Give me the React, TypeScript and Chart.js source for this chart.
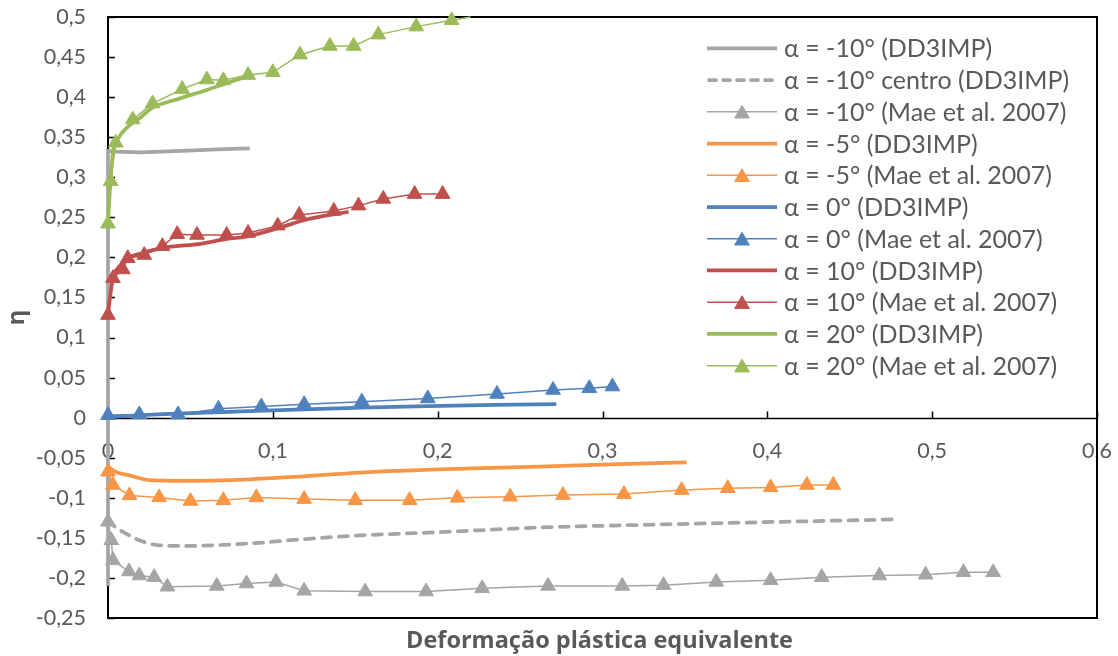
import React, { useEffect, useRef } from "react";
import { Chart, registerables } from "chart.js";

Chart.register(...registerables);

const FONT = "Lato, 'Open Sans', sans-serif";
const TITLE_FONT = "'Open Sans', sans-serif";
const TEXT = "#595959";

const GRAY = "#A5A5A5";
const ORANGE = "#F79646";
const BLUE = "#4F81BD";
const RED = "#C0504D";
const GREEN = "#9BBB59";

// Tick values
const xTickValues = [0, 0.1, 0.2, 0.3, 0.4, 0.5, 0.6];
const yTickValues = [-0.25, -0.2, -0.15, -0.1, -0.05, 0, 0.05, 0.1, 0.15, 0.2, 0.25, 0.3, 0.35, 0.4, 0.45, 0.5];

// Series: [deformação plástica equivalente, η]
const m10Sim: [number, number][] = [
  [0, -0.21], [0, 0.333], [0.005, 0.332], [0.02, 0.331], [0.045, 0.333], [0.07, 0.335], [0.086, 0.336],
];
const m10Centro: [number, number][] = [
  [0, -0.128], [0.003, -0.134], [0.007, -0.14], [0.013, -0.147], [0.019, -0.153], [0.03, -0.159], [0.045, -0.16],
  [0.086, -0.157], [0.116, -0.152], [0.153, -0.147], [0.2, -0.143], [0.262, -0.137], [0.32, -0.134],
  [0.384, -0.131], [0.43, -0.129], [0.476, -0.127],
];
const m10Mae: [number, number][] = [
  [0, -0.13], [0.002, -0.153], [0.003, -0.178], [0.0127, -0.192], [0.019, -0.197], [0.028, -0.199],
  [0.036, -0.211], [0.066, -0.21], [0.084, -0.207], [0.102, -0.205], [0.119, -0.216], [0.156, -0.217],
  [0.193, -0.217], [0.227, -0.213], [0.267, -0.21], [0.312, -0.21], [0.337, -0.209], [0.369, -0.205],
  [0.402, -0.203], [0.433, -0.199], [0.468, -0.197], [0.496, -0.196], [0.519, -0.193], [0.537, -0.193],
];
const m5Sim: [number, number][] = [
  [0, -0.061], [0.004, -0.067], [0.013, -0.072], [0.025, -0.078], [0.044, -0.079], [0.086, -0.077],
  [0.116, -0.0735], [0.153, -0.0685], [0.221, -0.0633], [0.262, -0.061], [0.31, -0.058], [0.351, -0.0558],
];
const m5Mae: [number, number][] = [
  [0, -0.0675], [0.003, -0.084], [0.013, -0.097], [0.031, -0.0995], [0.05, -0.104], [0.07, -0.103],
  [0.09, -0.0995], [0.119, -0.1016], [0.15, -0.103], [0.183, -0.103], [0.212, -0.1], [0.244, -0.0987],
  [0.276, -0.0966], [0.313, -0.0954], [0.348, -0.0904], [0.376, -0.088], [0.402, -0.087], [0.424, -0.084],
  [0.44, -0.084],
];
const zeroSim: [number, number][] = [
  [0, 0.001], [0.03, 0.004], [0.07, 0.007], [0.119, 0.0105], [0.154, 0.0125], [0.194, 0.0145],
  [0.235, 0.016], [0.272, 0.017],
];
const zeroMae: [number, number][] = [
  [0, 0.003], [0.019, 0.004], [0.0425, 0.004], [0.067, 0.011], [0.093, 0.0138], [0.119, 0.0167],
  [0.154, 0.02], [0.194, 0.024], [0.236, 0.0296], [0.27, 0.0346], [0.292, 0.0367], [0.306, 0.0388],
];
const p10Sim: [number, number][] = [
  [0, 0.128], [0.001, 0.147], [0.003, 0.174], [0.007, 0.189], [0.012, 0.199], [0.021, 0.2055],
  [0.035, 0.2125], [0.056, 0.217], [0.072, 0.223], [0.084, 0.226], [0.104, 0.237], [0.12, 0.247], [0.146, 0.257],
];
const p10Mae: [number, number][] = [
  [0, 0.128], [0.003, 0.174], [0.009, 0.185], [0.012, 0.199], [0.022, 0.203], [0.033, 0.214],
  [0.042, 0.229], [0.054, 0.228], [0.072, 0.228], [0.085, 0.2305], [0.103, 0.2396], [0.116, 0.253],
  [0.137, 0.258], [0.152, 0.2646], [0.167, 0.273], [0.186, 0.279], [0.203, 0.279],
];
const p20Sim: [number, number][] = [
  [0, 0.242], [0.0015, 0.295], [0.003, 0.33], [0.006, 0.348], [0.012, 0.363], [0.02, 0.375],
  [0.027, 0.387], [0.04, 0.396], [0.06, 0.409], [0.086, 0.427],
];
const p20Mae: [number, number][] = [
  [0, 0.242], [0.0016, 0.295], [0.0047, 0.343], [0.015, 0.372], [0.027, 0.392], [0.045, 0.41],
  [0.06, 0.422], [0.07, 0.421], [0.085, 0.4275], [0.1, 0.431], [0.1165, 0.453], [0.1346, 0.4638],
  [0.149, 0.4638], [0.164, 0.478], [0.187, 0.488], [0.2085, 0.496], [0.22, 0.5],
];

const fmt = (v: number) => String(Math.round(v * 100) / 100).replace(".", ",");

const toXY = (pts: [number, number][]) => pts.map(([x, y]) => ({ x, y }));

type Kind = "sim" | "dash" | "mae";

const seriesDefs: { label: string; pts: [number, number][]; color: string; kind: Kind; smooth?: boolean }[] = [
  { label: "α = -10° (DD3IMP)", pts: m10Sim, color: GRAY, kind: "sim", smooth: false },
  { label: "α = -10° centro (DD3IMP)", pts: m10Centro, color: GRAY, kind: "dash" },
  { label: "α = -10° (Mae et al. 2007)", pts: m10Mae, color: GRAY, kind: "mae" },
  { label: "α = -5° (DD3IMP)", pts: m5Sim, color: ORANGE, kind: "sim" },
  { label: "α = -5° (Mae et al. 2007)", pts: m5Mae, color: ORANGE, kind: "mae" },
  { label: "α = 0° (DD3IMP)", pts: zeroSim, color: BLUE, kind: "sim" },
  { label: "α = 0° (Mae et al. 2007)", pts: zeroMae, color: BLUE, kind: "mae" },
  { label: "α = 10° (DD3IMP)", pts: p10Sim, color: RED, kind: "sim" },
  { label: "α = 10° (Mae et al. 2007)", pts: p10Mae, color: RED, kind: "mae" },
  { label: "α = 20° (DD3IMP)", pts: p20Sim, color: GREEN, kind: "sim" },
  { label: "α = 20° (Mae et al. 2007)", pts: p20Mae, color: GREEN, kind: "mae" },
];

const THICK = 3.75;
const THIN = 1.5;
const MARK_R = 8.5;
const DASH = [9, 8];

function drawTriangle(ctx: CanvasRenderingContext2D, cx: number, cy: number, r: number, color: string) {
  ctx.beginPath();
  ctx.moveTo(cx, cy - r);
  ctx.lineTo(cx + r * 0.866, cy + r * 0.5);
  ctx.lineTo(cx - r * 0.866, cy + r * 0.5);
  ctx.closePath();
  ctx.fillStyle = color;
  ctx.fill();
  ctx.lineWidth = 1;
  ctx.strokeStyle = color;
  ctx.stroke();
}

// Plot frame, axis at η = 0, inward tick marks and axis titles
const framePlugin = {
  id: "frame",
  beforeDatasetsDraw(chart: any) {
    const { ctx, chartArea: a, scales } = chart;
    const xs = scales.x;
    const ys = scales.y;
    ctx.save();
    ctx.strokeStyle = "#000";
    ctx.lineWidth = 2;
    ctx.strokeRect(a.left, a.top, a.right - a.left, a.bottom - a.top);
    const y0 = Math.round(ys.getPixelForValue(0)) + 0.5;
    ctx.lineWidth = 1.5;
    ctx.beginPath();
    ctx.moveTo(a.left, y0);
    ctx.lineTo(a.right, y0);
    for (const v of yTickValues) {
      const py = Math.round(ys.getPixelForValue(v)) + 0.5;
      ctx.moveTo(a.left, py);
      ctx.lineTo(a.left + 7, py);
    }
    for (const v of xTickValues) {
      const px = Math.round(xs.getPixelForValue(v)) + 0.5;
      ctx.moveTo(px, y0);
      ctx.lineTo(px, y0 - 7);
    }
    ctx.stroke();

    ctx.fillStyle = TEXT;
    ctx.font = `bold 23.5px ${TITLE_FONT}`;
    ctx.textAlign = "center";
    ctx.textBaseline = "alphabetic";
    ctx.fillText("Deformação plástica equivalente", (a.left + a.right) / 2 - 3, 648);
    ctx.save();
    ctx.translate(24, (a.top + a.bottom) / 2);
    ctx.rotate(-Math.PI / 2);
    ctx.fillText("η", 0, 0);
    ctx.restore();
    ctx.restore();
  },
};

// Legend block inside the plot area
const legendPlugin = {
  id: "sideLegend",
  afterDatasetsDraw(chart: any) {
    const { ctx } = chart;
    const x0 = 707;
    const x1 = 777;
    const tx = 784;
    const top = 48.3;
    const dy = 31.74;
    ctx.save();
    chart.data.datasets.forEach((ds: any, i: number) => {
      const yy = top + i * dy;
      ctx.strokeStyle = ds.borderColor;
      ctx.lineWidth = ds.borderWidth;
      ctx.lineCap = ds.borderDash ? "round" : "butt";
      ctx.setLineDash(ds.borderDash ? [7, 7] : []);
      ctx.beginPath();
      ctx.moveTo(x0 + (ds.borderDash ? 2 : 0), yy);
      ctx.lineTo(x1, yy);
      ctx.stroke();
      ctx.setLineDash([]);
      if (ds.kind === "mae") {
        drawTriangle(ctx, (x0 + x1) / 2, yy + 2, MARK_R, ds.borderColor);
      }
      ctx.fillStyle = TEXT;
      ctx.font = `25px ${FONT}`;
      ctx.textAlign = "left";
      ctx.textBaseline = "middle";
      ctx.fillText(ds.label, tx, yy + 1);
    });
    ctx.restore();
  },
};

export default function App() {
  const canvasRef = useRef<HTMLCanvasElement | null>(null);

  useEffect(() => {
    const canvas = canvasRef.current;
    if (!canvas) return;

    const datasets = seriesDefs.map((s, i) => {
      const mae = s.kind === "mae";
      const ds: any = {
        label: s.label,
        kind: s.kind,
        data: toXY(s.pts),
        borderColor: s.color,
        backgroundColor: s.color,
        borderWidth: mae ? THIN : THICK,
        pointStyle: "triangle",
        pointRadius: mae ? s.pts.map((p) => (p[1] >= 0.5 ? 0 : MARK_R)) : 0,
        pointBackgroundColor: s.color,
        pointBorderColor: s.color,
        pointBorderWidth: 1,
        tension: 0,
        order: seriesDefs.length - i,
        clip: { left: 14, top: 8, right: 8, bottom: 8 },
      };
      if (s.kind === "dash") {
        ds.borderDash = DASH;
        ds.borderCapStyle = "round";
      }
      if (!mae && s.smooth !== false) {
        ds.cubicInterpolationMode = "monotone";
      }
      return ds;
    });

    const chart = new Chart(canvas, {
      type: "line",
      data: { datasets },
      options: {
        animation: false,
        responsive: false,
        maintainAspectRatio: false,
        parsing: true,
        layout: { padding: { left: 8, right: 21, top: 17, bottom: 38 } },
        plugins: {
          legend: { display: false },
          tooltip: { enabled: false },
          title: { display: false },
        },
        scales: {
          x: {
            type: "linear",
            min: 0,
            max: 0.6,
            position: { y: 0 } as any,
            grid: { display: false, drawTicks: false },
            border: { display: false },
            ticks: {
              padding: 20,
              color: TEXT,
              font: { family: FONT, size: 21.5 },
              maxRotation: 0,
              autoSkip: false,
              callback: (v: any) => fmt(Number(v)),
            },
            afterBuildTicks: (scale: any) => {
              scale.ticks = xTickValues.map((value) => ({ value }));
            },
            afterFit: (scale: any) => {
              scale.paddingLeft = 0;
              scale.paddingRight = 0;
            },
          },
          y: {
            type: "linear",
            min: -0.25,
            max: 0.5,
            position: "left",
            grid: { display: false, drawTicks: false },
            border: { display: false },
            ticks: {
              padding: 22,
              color: TEXT,
              font: { family: FONT, size: 21.5 },
              autoSkip: false,
              callback: (v: any) => fmt(Number(v)),
            },
            afterBuildTicks: (scale: any) => {
              scale.ticks = yTickValues.map((value) => ({ value }));
            },
            afterFit: (scale: any) => {
              scale.width = 100;
              scale.paddingTop = 0;
              scale.paddingBottom = 0;
            },
          },
        },
      },
      plugins: [framePlugin, legendPlugin],
    });

    return () => chart.destroy();
  }, []);

  return (
    <div style={{ position: "absolute", left: 0, top: 0, width: 1118, height: 656, background: "#fff" }}>
      <canvas ref={canvasRef} width={1118} height={656} style={{ display: "block" }} />
    </div>
  );
}
